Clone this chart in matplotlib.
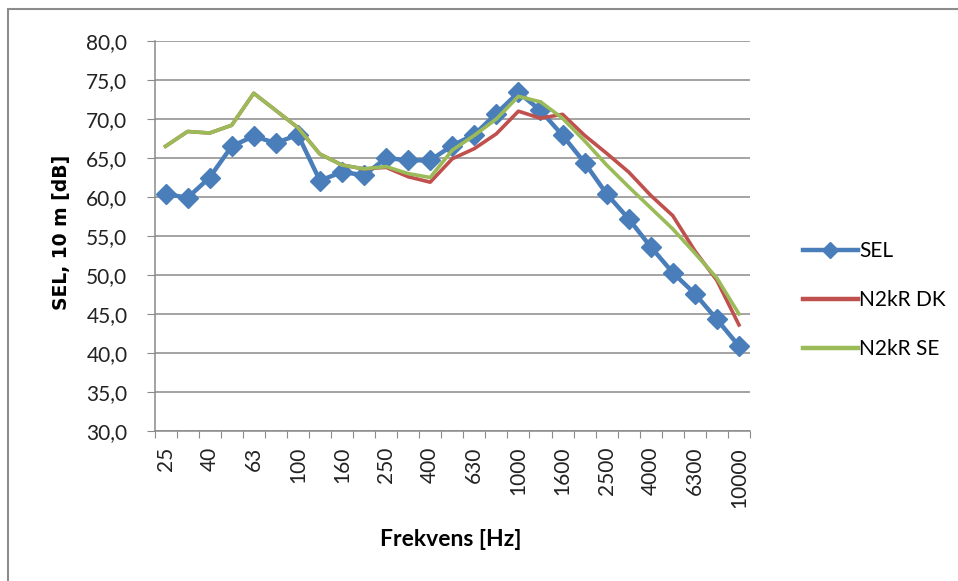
import matplotlib
matplotlib.use("Agg")
import matplotlib.pyplot as plt
from matplotlib.patches import Rectangle
from matplotlib.lines import Line2D

plt.rcParams['font.family'] = ['Lato', 'DejaVu Sans']

freqs = ["25", "31.5", "40", "50", "63", "80", "100", "125", "160", "200", "250", "315",
         "400", "500", "630", "800", "1000", "1250", "1600", "2000", "2500", "3150",
         "4000", "5000", "6300", "8000", "10000"]
sel = [60.4, 59.9, 62.5, 66.5, 67.8, 66.9, 68.0, 62.1, 63.2, 62.8, 65.0, 64.7,
       64.7, 66.6, 68.0, 70.7, 73.4, 71.1, 67.9, 64.4, 60.4, 57.2, 53.6, 50.3,
       47.6, 44.3, 40.9]
dk = [66.5, 68.4, 68.2, 69.2, 73.3, 71.1, 68.9, 65.5, 64.1, 63.6, 63.8, 62.6,
      61.9, 64.9, 66.2, 68.1, 71.0, 70.1, 70.6, 67.9, 65.6, 63.2, 60.2, 57.6,
      53.1, 49.3, 43.6]
se = [66.5, 68.4, 68.2, 69.2, 73.3, 71.1, 68.9, 65.5, 64.1, 63.6, 63.9, 63.0,
      62.5, 66.0, 67.9, 70.0, 72.9, 72.2, 70.1, 67.2, 64.1, 61.3, 58.6, 55.9,
      52.8, 49.6, 45.0]
labels = ["SEL", "N2kR DK", "N2kR SE"]
yticks = [30, 35, 40, 45, 50, 55, 60, 65, 70, 75, 80]

W, H = 958, 581
fig = plt.figure(figsize=(W / 100, H / 100), dpi=100)
fig.patch.set_facecolor("white")

# outer chart frame
fig.patches.append(Rectangle((8 / W, -0.05), 1.2, 1 - 9 / H + 0.05,
                             transform=fig.transFigure, fill=False,
                             edgecolor="#8c8c8c", linewidth=1.5))

ax = fig.add_axes([154.5 / W, 1 - 431 / H, (750 - 154.5) / W, (431 - 41) / H])
x = list(range(len(freqs)))

c_sel, c_dk, c_se = "#4A7EBB", "#C0504D", "#9BBB59"
ax.plot(x, sel, color=c_sel, lw=3.2, marker="D", markersize=10, zorder=3,
        solid_joinstyle="round")
ax.plot(x, dk, color=c_dk, lw=2.6, zorder=4, solid_joinstyle="round")
ax.plot(x, se, color=c_se, lw=2.6, zorder=5, solid_joinstyle="round")

ax.set_xlim(-0.5, len(freqs) - 0.5)
ax.set_ylim(30, 80)
ax.set_yticks(yticks)
ax.set_yticklabels([f"{v:.1f}".replace(".", ",") for v in yticks],
                   fontsize=15, color="#222222")
ax.yaxis.grid(True, color="#8a8a8a", lw=1.1)
ax.set_axisbelow(True)

# category boundaries as ticks, labels on every other category
ax.set_xticks([i - 0.5 for i in range(len(freqs) + 1)])
ax.set_xticklabels([])
ax.set_xticks(x[::2], minor=True)
ax.set_xticklabels([freqs[i] for i in x[::2]], minor=True, rotation=90,
                   fontsize=15, color="#222222")
ax.tick_params(axis="x", which="major", length=5, color="#8a8a8a", direction="out")
ax.tick_params(axis="x", which="minor", length=0, pad=11.5)
ax.tick_params(axis="y", length=5.5, color="#8a8a8a", direction="out", pad=14)

for s in ["top", "right"]:
    ax.spines[s].set_visible(False)
for s in ["left", "bottom"]:
    ax.spines[s].set_color("#8a8a8a")
    ax.spines[s].set_linewidth(1.1)

fig.text(61.5 / W, 1 - 232 / H, "SEL, 10 m [dB]", fontsize=13.5, fontweight="bold",
         family="DejaVu Sans", rotation=90, ha="center", va="center")
fig.text(451 / W, 1 - 540 / H, "Frekvens [Hz]", fontsize=16.5, fontweight="bold",
         ha="center", va="center")

handles = [Line2D([], [], color=c_sel, lw=3.2, marker="D", markersize=8),
           Line2D([], [], color=c_dk, lw=3.2),
           Line2D([], [], color=c_se, lw=3.2)]
fig.legend(handles, labels, loc="center left", bbox_to_anchor=(784 / W, 1 - 300 / H),
           frameon=False, fontsize=15, handlelength=2.64, handletextpad=0.08,
           labelspacing=1.4)

fig.savefig("out.png", dpi=100)
